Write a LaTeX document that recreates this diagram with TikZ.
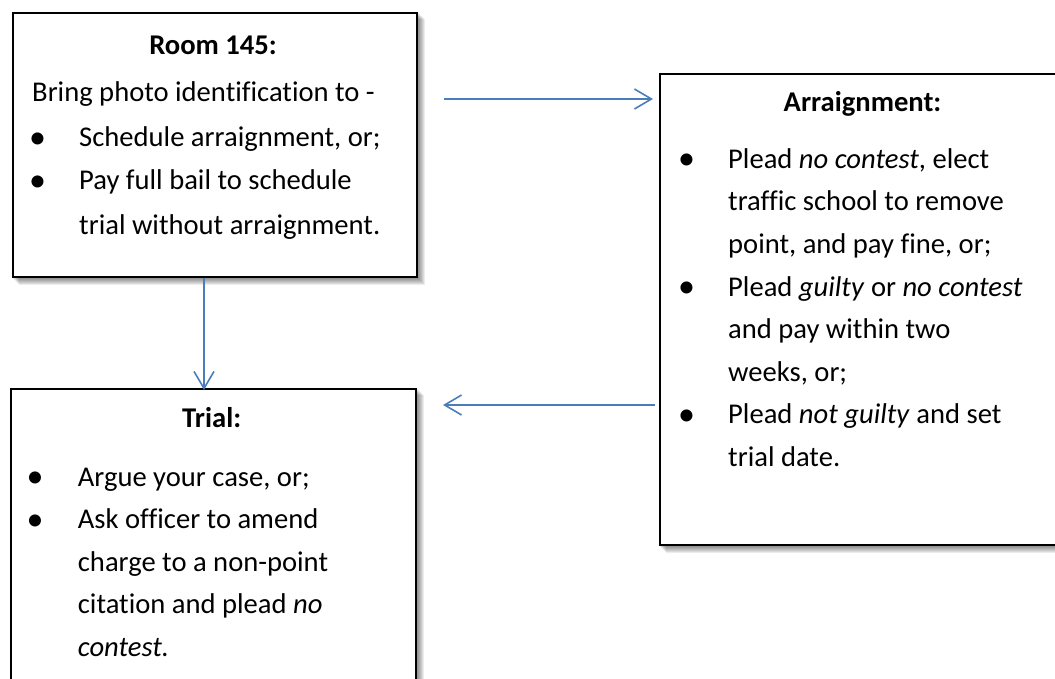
\documentclass[tikz,border=0pt]{standalone}
\usepackage{fontspec}
\setmainfont{Carlito}[Ligatures=NoCommon]
\usetikzlibrary{arrows.meta,backgrounds}
\definecolor{arrowblue}{RGB}{74,126,187}
\begin{document}
\begin{tikzpicture}[x=1pt,y=-1pt,
  box/.style={draw=black,line width=1.8pt,fill=white,rectangle,anchor=north west,inner sep=0pt},
  txt/.style={anchor=base west,inner sep=0pt,font=\fontsize{28.6}{42}\selectfont},
  ttl/.style={anchor=base,inner sep=0pt,font=\fontsize{28.6}{42}\selectfont\bfseries},
  bul/.style={anchor=base,inner sep=0pt,yshift=-1.5pt,font=\fontsize{34}{42}\selectfont},
  conn/.style={draw=arrowblue,line width=1.6pt,-{Straight Barb[length=17pt,width=20pt]}}
]
\useasboundingbox (0,0) rectangle (1055,679);
\clip (0,0) rectangle (1055,679);

% boxes
\node[box,minimum width=404pt,minimum height=264pt] (room) at (12,12) {};
\node[box,minimum width=450pt,minimum height=471pt] (arr) at (659,73) {};
\node[box,minimum width=405pt,minimum height=320pt] (trial) at (10,388) {};

% shadows
\begin{pgfonlayer}{background}
\foreach \n in {room,arr,trial}{
  \foreach \k in {1,...,7}{
    \fill[black,opacity=0.075] ([shift={(\k,\k)}]\n.north west) rectangle ([shift={(\k,\k)}]\n.south east);
  }
}
\end{pgfonlayer}

% Room 145 text
\node[ttl] (r0) at (213,55) {Room 145:};
\node[txt] (r1) at (32,101.7) {Bring photo identification to -};
\node[bul] (rb1) at (37.5,146.7) {•};
\node[txt] (r2) at (79,146.7) {Schedule arraignment, or;};
\node[bul] (rb2) at (37.5,190) {•};
\node[txt] (r3) at (79,190) {Pay full bail to schedule};
\node[txt] (r4) at (79,235) {trial without arraignment.};

% Arraignment text
\node[ttl] (a0) at (862.5,111.7) {Arraignment:};
\node[bul] (ab1) at (686.7,168.3) {•};
\node[txt] (a1) at (728,168.3) {Plead \textit{no contest}, elect};
\node[txt] (a2) at (728,211) {traffic school to remove};
\node[txt] (a3) at (728,253.5) {point, and pay fine, or;};
\node[bul] (ab2) at (686.7,296) {•};
\node[txt] (a4) at (728,296) {Plead \textit{guilty} or \textit{no contest}};
\node[txt] (a5) at (728,338.5) {and pay within two};
\node[txt] (a6) at (728,381) {weeks, or;};
\node[bul] (ab3) at (686.7,423.5) {•};
\node[txt] (a7) at (728,423.5) {Plead \textit{not guilty} and set};
\node[txt] (a8) at (728,466) {trial date.};

% Trial text
\node[ttl] (t0) at (211.7,427) {Trial:};
\node[bul] (tb1) at (35,486) {•};
\node[txt] (t1) at (77.7,486) {Argue your case, or;};
\node[bul] (tb2) at (35,528.5) {•};
\node[txt] (t2) at (77.7,528.5) {Ask officer to amend};
\node[txt] (t3) at (77.7,571) {charge to a non-point};
\node[txt] (t4) at (77.7,613.5) {citation and plead \textit{no}};
\node[txt] (t5) at (77.7,656) {\textit{contest.}};

% connectors
\coordinate (c1s) at (444,99);
\coordinate (c1e) at (653,99);
\coordinate (c2s) at (655,405);
\coordinate (c2e) at (443,405);
\draw[conn] (c1s) -- (c1e);
\draw[conn] (c2s) -- (c2e);
\draw[conn] (room.south -| 204,0) -- ([yshift=-2pt]trial.north -| 204,0);
\end{tikzpicture}
\end{document}
